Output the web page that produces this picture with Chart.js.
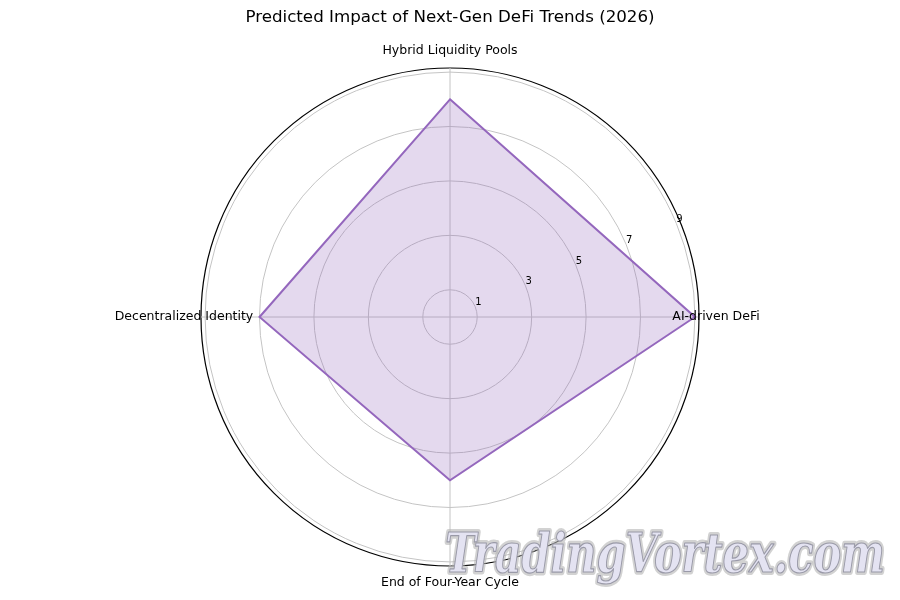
<!DOCTYPE html>
<html>
<head>
<meta charset="utf-8">
<script src="https://cdn.jsdelivr.net/npm/chart.js@4.4.1/dist/chart.umd.min.js"></script>
<style>
  html, body { margin: 0; padding: 0; background: #fff; }
</style>
</head>
<body>
<canvas id="radarChart" width="900" height="600"></canvas>
<script>
// clockwise from the top, as chart.js lays them out
const trends = ['Hybrid Liquidity Pools', 'AI-driven DeFi', 'End of Four-Year Cycle', 'Decentralized Identity'];
const impact = [8, 9, 6, 7];
const ringTicks = [1, 3, 5, 7, 9];
const rMax = 9.15;

const font = 'DejaVu Sans, sans-serif';

// tick labels at 22.5deg, category labels centred outside, watermark
const extraText = {
    id: 'extraText',
    afterDatasetsDraw(chart) {
        const ctx = chart.ctx;
        const scale = chart.scales.r;
        const cx = scale.xCenter, cy = scale.yCenter;
        const a = 22.5 * Math.PI / 180;

        ctx.save();
        ctx.fillStyle = '#000';
        ctx.font = '10px ' + font;
        ctx.textAlign = 'left';
        ctx.textBaseline = 'bottom';
        ringTicks.forEach(v => {
            const r = scale.getDistanceFromCenterForValue(v);
            ctx.fillText(String(v), cx + r * Math.cos(a), cy - r * Math.sin(a) + 1);
        });

        ctx.font = '12.5px ' + font;
        ctx.textAlign = 'center';
        ctx.textBaseline = 'middle';
        trends.forEach((t, i) => {
            const p = scale.getPointPosition(i, 266);
            ctx.fillText(t, p.x, p.y);
        });

        // watermark
        ctx.font = 'italic bold 54px "DejaVu Serif", serif';
        const w = ctx.measureText('TradingVortex.com').width;
        ctx.translate(445, 572);
        ctx.scale(440 / w, 1);
        ctx.textAlign = 'left';
        ctx.textBaseline = 'alphabetic';
        ctx.lineJoin = 'round';
        ctx.strokeStyle = 'rgba(180,180,180,0.6)';
        ctx.lineWidth = 6;
        ctx.strokeText('TradingVortex.com', 0, 0);
        ctx.fillStyle = '#e4e3f2';
        ctx.fillText('TradingVortex.com', 0, 0);
        ctx.strokeStyle = '#9a9aa8';
        ctx.lineWidth = 1.2;
        ctx.strokeText('TradingVortex.com', 0, 0);
        ctx.restore();
    }
};

const ctx = document.getElementById('radarChart').getContext('2d');
const radarChart = new Chart(ctx, {
    type: 'radar',
    data: {
        labels: trends,
        datasets: [{
            label: 'Impact',
            data: impact,
            borderColor: '#9467bd',
            backgroundColor: 'rgba(148, 103, 189, 0.25)',
            borderWidth: 2,
            pointRadius: 0,
            pointHoverRadius: 0,
            fill: true,
            tension: 0
        }]
    },
    options: {
        responsive: false,
        animation: false,
        layout: { padding: { top: 0, bottom: 33, left: 0, right: 0 } },
        scales: {
            r: {
                min: 0,
                max: rMax,
                afterBuildTicks: (scale) => {
                    scale.ticks = [0, ...ringTicks, rMax].map(v => ({ value: v }));
                },
                ticks: { display: false },
                pointLabels: { display: false },
                grid: {
                    circular: true,
                    color: (c) => (c.tick && c.tick.value === rMax) ? '#000000' : '#c4c4c4',
                    lineWidth: (c) => (c.tick && c.tick.value === rMax) ? 1.2 : 1
                },
                angleLines: {
                    color: '#c4c4c4',
                    lineWidth: 1
                }
            }
        },
        plugins: {
            legend: { display: false },
            tooltip: { enabled: false },
            title: {
                display: true,
                text: 'Predicted Impact of Next-Gen DeFi Trends (2026)',
                color: '#000',
                font: { family: font, size: 16.7, weight: 'normal' },
                padding: { top: 8, bottom: 39 }
            }
        }
    },
    plugins: [extraText]
});
</script>
</body>
</html>
